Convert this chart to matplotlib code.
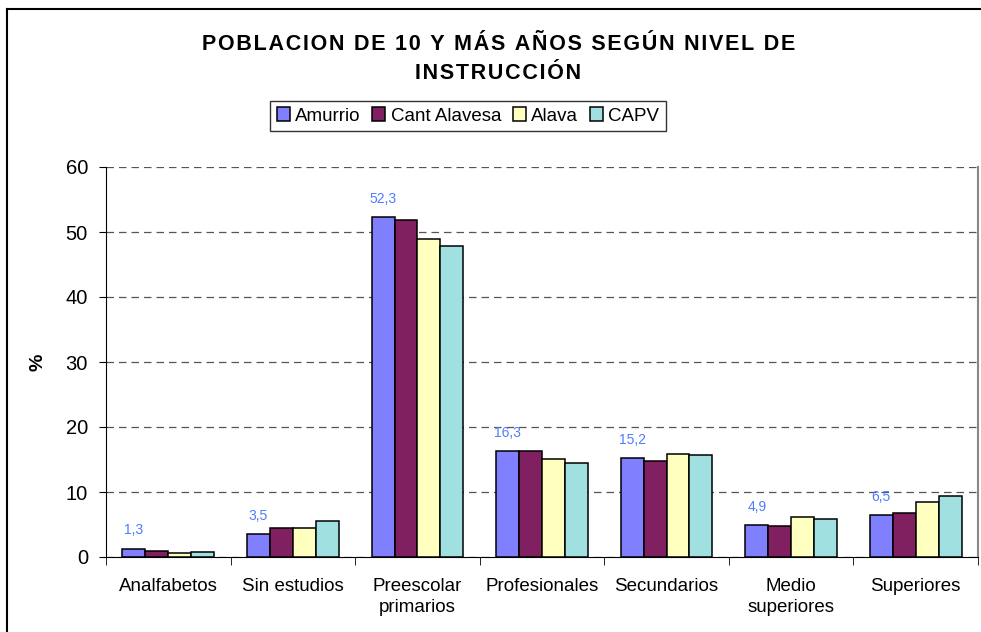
import matplotlib.pyplot as plt
import numpy as np
from matplotlib.lines import Line2D

plt.rcParams['font.family'] = ['Liberation Sans', 'DejaVu Sans']

categorias = ['Analfabetos', 'Sin estudios', 'Preescolar\nprimarios', 'Profesionales',
              'Secundarios', 'Medio\nsuperiores', 'Superiores']
amurrio = [1.3, 3.5, 52.3, 16.3, 15.2, 4.9, 6.5]
cant_alavesa = [0.9, 4.4, 51.8, 16.3, 14.7, 4.7, 6.8]
alava = [0.55, 4.5, 48.9, 15.1, 15.9, 6.2, 8.5]
capv = [0.7, 5.5, 47.8, 14.5, 15.7, 5.8, 9.4]
etiquetas = ['1,3', '3,5', '52,3', '16,3', '15,2', '4,9', '6,5']

series = [('Amurrio', amurrio, '#8080FF'),
          ('Cant Alavesa', cant_alavesa, '#802060'),
          ('Alava', alava, '#FFFFC0'),
          ('CAPV', capv, '#A0E0E0')]


def espaciar(texto):
    # el titulo original lleva letras muy separadas
    return '\u200a'.join(texto)


fig = plt.figure(figsize=(9.81, 6.32), dpi=100)
ax = fig.add_axes([106 / 981, 1 - 557 / 632, (978 - 106) / 981, (557 - 167) / 632])

x = np.arange(len(categorias))
w = 0.184
for i, (nombre, vals, color) in enumerate(series):
    ax.bar(x + (i - 1.5) * w, vals, w, color=color, edgecolor='black',
           linewidth=1.1, label=nombre, zorder=3)

for xi, v, t in zip(x, amurrio, etiquetas):
    ax.annotate(t, (xi - 1.5 * w, v), xytext=(0, 8), textcoords='offset points',
                ha='center', va='bottom', fontsize=10, color='#4F7BFF')

ax.set_xlim(-0.5, len(categorias) - 0.5)
ax.set_ylim(0, 60)
ax.set_yticks(range(0, 61, 10))
ax.set_xticks(x)
ax.set_xticklabels(categorias, fontsize=13.5, linespacing=1.3)
ax.set_xticks(np.arange(-0.5, len(categorias), 1), minor=True)
ax.tick_params(axis='x', which='major', length=0, pad=15)
ax.tick_params(axis='x', which='minor', length=6, direction='out')
ax.tick_params(axis='y', labelsize=14.5, length=5, direction='out', pad=8)

ax.yaxis.grid(True, linestyle=(0, (6, 4)), color='#555555', linewidth=0.9, zorder=0)
ax.set_axisbelow(True)
ax.spines['top'].set_visible(False)
ax.spines['right'].set_color('#888888')
ax.spines['right'].set_linewidth(1.5)
ax.set_ylabel('%', fontsize=14, fontweight='bold', labelpad=14)

titulo = espaciar('POBLACION DE 10 Y MÁS AÑOS SEGÚN NIVEL DE') + '\n' + espaciar('INSTRUCCIÓN')
fig.text(0.508, 1 - 59 / 632, titulo, ha='center', va='center', fontsize=15.5,
         fontweight='bold', linespacing=1.55)

leg = fig.legend(loc='center', bbox_to_anchor=(468 / 981, 1 - 116 / 632), ncol=4,
                 fontsize=13.5, frameon=True, fancybox=False, edgecolor='black',
                 handlelength=0.7, handleheight=0.7, handletextpad=0.3,
                 columnspacing=0.6, borderpad=0.35)
leg.get_frame().set_linewidth(1.0)

# marco exterior
fig.add_artist(Line2D([7 / 981, 7 / 981], [0, 1 - 9 / 632], color='black', linewidth=1.5))
fig.add_artist(Line2D([7 / 981, 1], [1 - 9 / 632, 1 - 9 / 632], color='black', linewidth=1.5))

fig.savefig('out.png', dpi=100)
